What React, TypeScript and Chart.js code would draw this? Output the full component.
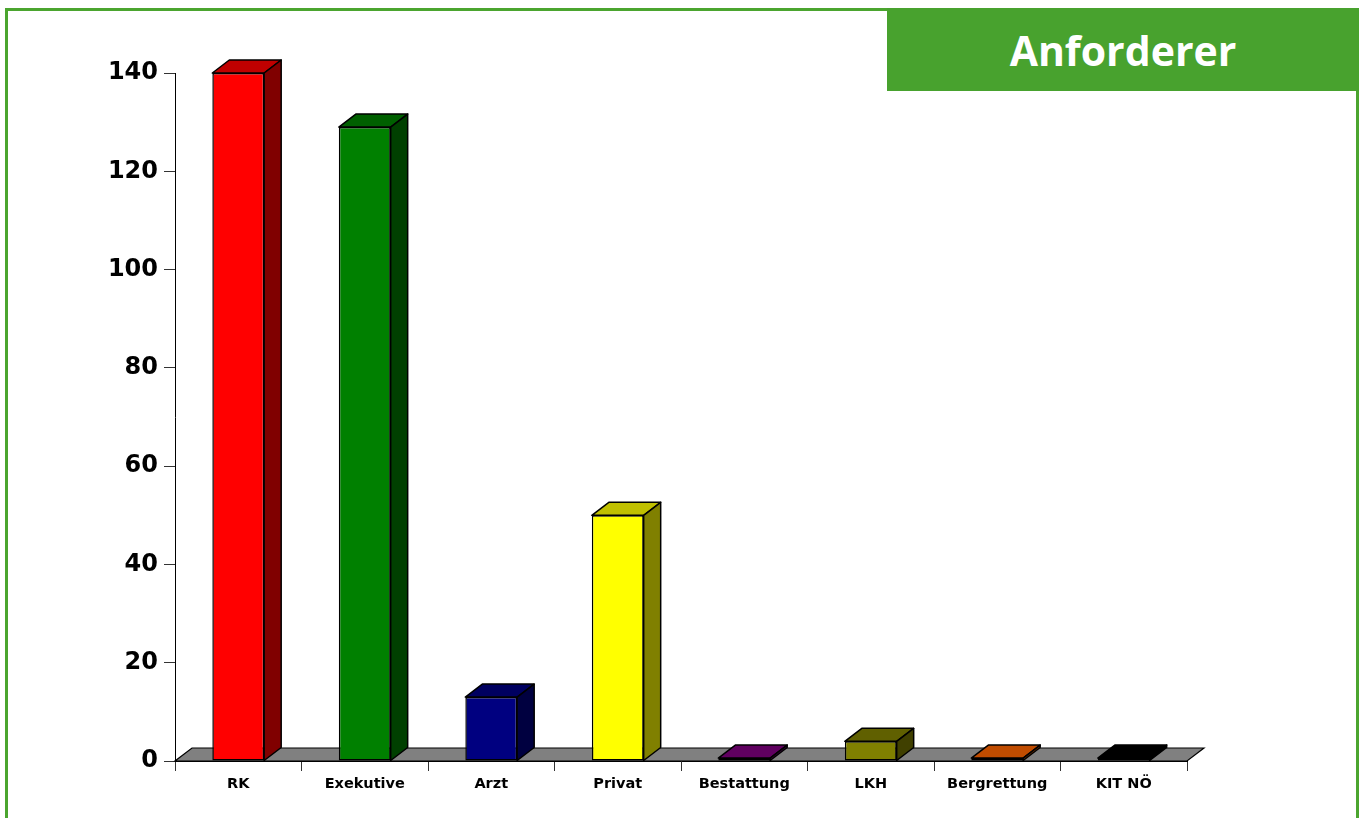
import { useEffect, useRef } from "react";
import { Chart, registerables } from "chart.js";

Chart.register(...registerables);

// Requests per requesting party
const categories = ["RK", "Exekutive", "Arzt", "Privat", "Bestattung", "LKH", "Bergrettung", "KIT NÖ"];
const counts = [140, 129, 13, 50, 0.6, 4, 0.6, 0.6];

// Face colours of each box: front, top, right side
const frontColors = ["#ff0000", "#008000", "#000080", "#ffff00", "#800080", "#808000", "#ff6600", "#000000"];
const topColors = ["#c00000", "#006000", "#000060", "#c0c000", "#600060", "#606000", "#c04c00", "#000000"];
const sideColors = ["#800000", "#004000", "#000040", "#808000", "#400040", "#404000", "#803300", "#000000"];

const yMax = 140;
const yStep = 20;

// depth offset of the pseudo-3D boxes and floor
const DX = 17;
const DY = 13;
const EDGE = 1.5;

const boxes3d = {
  id: "boxes3d",
  beforeDatasetsDraw(chart: any) {
    const { ctx, chartArea, scales } = chart;
    const y0 = scales.y.getPixelForValue(0);
    const l = chartArea.left;
    const r = chartArea.right;
    ctx.save();
    ctx.beginPath();
    ctx.moveTo(l, y0);
    ctx.lineTo(r, y0);
    ctx.lineTo(r + DX, y0 - DY);
    ctx.lineTo(l + DX, y0 - DY);
    ctx.closePath();
    ctx.fillStyle = "#808080";
    ctx.fill();
    ctx.strokeStyle = "#000";
    ctx.lineWidth = 1.2;
    ctx.stroke();
    ctx.restore();
  },
  afterDatasetsDraw(chart: any) {
    const { ctx } = chart;
    const meta = chart.getDatasetMeta(0);
    ctx.save();
    ctx.strokeStyle = "#000";
    ctx.lineWidth = EDGE;
    ctx.lineJoin = "round";
    meta.data.forEach((bar: any, i: number) => {
      const { x, y, base, width } = bar.getProps(["x", "y", "base", "width"], true);
      const x0 = x - width / 2;
      const x1 = x + width / 2;
      // top face
      ctx.beginPath();
      ctx.moveTo(x0, y);
      ctx.lineTo(x1, y);
      ctx.lineTo(x1 + DX, y - DY);
      ctx.lineTo(x0 + DX, y - DY);
      ctx.closePath();
      ctx.fillStyle = topColors[i];
      ctx.fill();
      ctx.stroke();
      // right side face
      ctx.beginPath();
      ctx.moveTo(x1, y);
      ctx.lineTo(x1 + DX, y - DY);
      ctx.lineTo(x1 + DX, base - DY);
      ctx.lineTo(x1, base);
      ctx.closePath();
      ctx.fillStyle = sideColors[i];
      ctx.fill();
      ctx.stroke();
    });
    ctx.restore();
  },
};

export default function App() {
  const canvasRef = useRef<HTMLCanvasElement | null>(null);

  useEffect(() => {
    const canvas = canvasRef.current;
    if (!canvas) return;
    const chart = new Chart(canvas, {
      type: "bar",
      data: {
        labels: categories,
        datasets: [
          {
            data: counts,
            backgroundColor: frontColors,
            borderColor: "#000",
            borderWidth: EDGE,
            borderSkipped: false,
            categoryPercentage: 1,
            barPercentage: 0.41,
          },
        ],
      },
      options: {
        responsive: false,
        animation: false,
        devicePixelRatio: 1,
        layout: { padding: { left: 0, top: 73, right: 173, bottom: 0 } },
        plugins: {
          legend: { display: false },
          tooltip: { enabled: false },
          title: { display: false },
        },
        scales: {
          x: {
            offset: true,
            grid: {
              drawOnChartArea: false,
              offset: true,
              tickLength: 10,
              color: "#333",
            },
            border: { display: true, color: "#000", width: 1 },
            ticks: {
              color: "#000",
              padding: 5,
              maxRotation: 0,
              font: { family: "DejaVu Sans", size: 14.5, weight: "bold" },
            },
            afterFit(scale: any) {
              scale.height = 57;
            },
          },
          y: {
            min: 0,
            max: yMax,
            grid: {
              drawOnChartArea: false,
              tickLength: 11,
              color: "#333",
            },
            border: { display: true, color: "#000", width: 1 },
            ticks: {
              stepSize: yStep,
              color: "#000",
              padding: 6,
              font: { family: "DejaVu Sans", size: 24, weight: "bold" },
            },
            afterFit(scale: any) {
              scale.width = 175;
            },
          },
        },
      },
      plugins: [boxes3d],
    });
    return () => chart.destroy();
  }, []);

  return (
    <div
      style={{
        position: "absolute",
        left: 0,
        top: 0,
        width: 1360,
        height: 818,
        overflow: "hidden",
        background: "#fff",
      }}
    >
      <div
        style={{
          position: "absolute",
          left: 5,
          top: 8,
          width: 1348,
          height: 900,
          border: "3px solid #4ba52f",
        }}
      />
      <canvas
        ref={canvasRef}
        width={1360}
        height={818}
        style={{ position: "absolute", left: 0, top: 0, width: 1360, height: 818 }}
      />
      <div
        style={{
          position: "absolute",
          left: 887,
          top: 8,
          width: 472,
          height: 83,
          background: "#48a22e",
          color: "#fff",
          fontFamily: "'Open Sans', sans-serif",
          fontWeight: 700,
          fontSize: 41,
          display: "flex",
          alignItems: "center",
          justifyContent: "center",
        }}
      >
        Anforderer
      </div>
    </div>
  );
}
